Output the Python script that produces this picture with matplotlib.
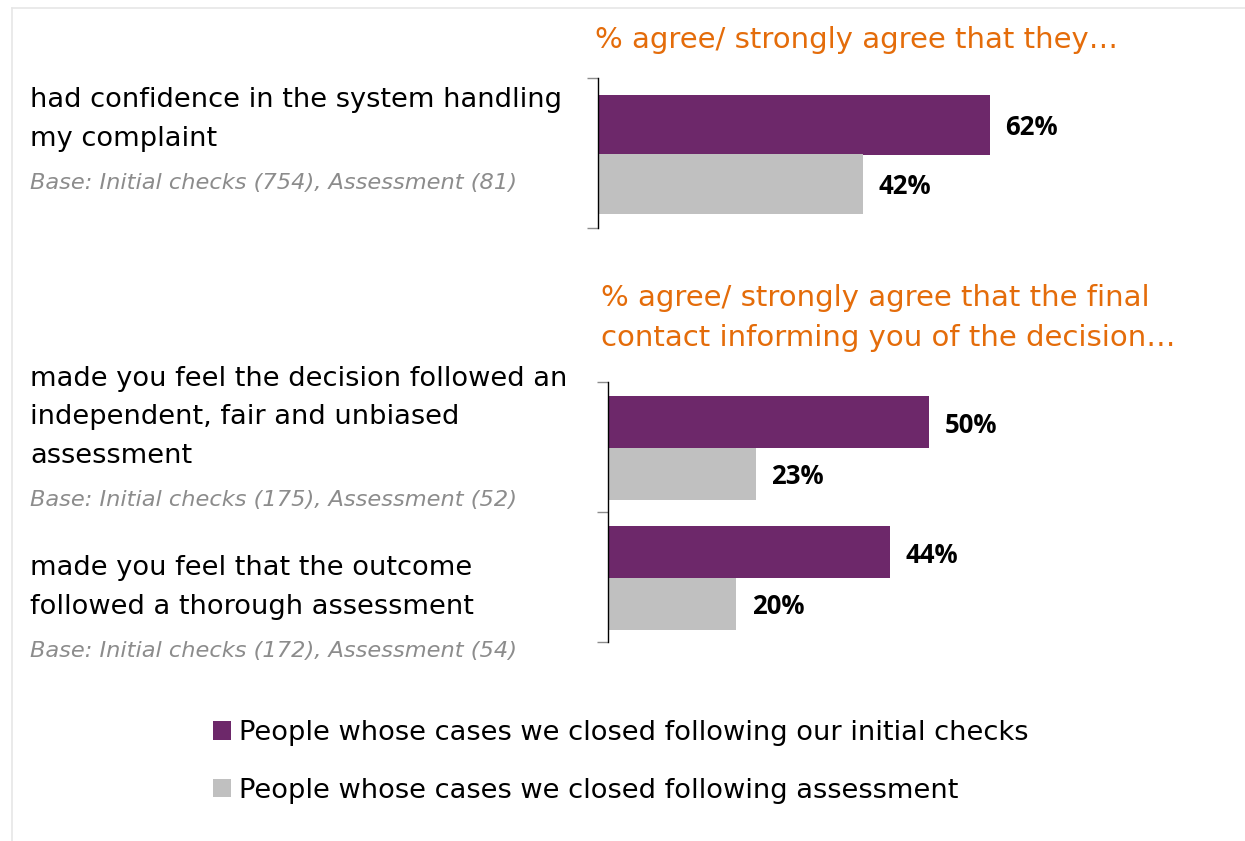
import matplotlib
matplotlib.use("Agg")
import matplotlib.pyplot as plt
from matplotlib.patches import Patch
from matplotlib.lines import Line2D

# ---- data ----
series_names = ["People whose cases we closed following our initial checks",
                "People whose cases we closed following assessment"]
colors = ["#6D286A", "#C0C0C0"]

top_title = "% agree/ strongly agree that they\u2026"
top_categories = ["had confidence in the system handling\nmy complaint"]
top_bases = ["Base: Initial checks (754), Assessment (81)"]
top_initial = [62]
top_assessment = [42]

bottom_title = "% agree/ strongly agree that the final\ncontact informing you of the decision\u2026"
bottom_categories = ["made you feel the decision followed an\nindependent, fair and unbiased\nassessment",
                     "made you feel that the outcome\nfollowed a thorough assessment"]
bottom_bases = ["Base: Initial checks (175), Assessment (52)",
                "Base: Initial checks (172), Assessment (54)"]
bottom_initial = [50, 44]
bottom_assessment = [23, 20]

W, H = 1245, 841
DPI = 100
fig = plt.figure(figsize=(W / DPI, H / DPI), dpi=DPI)
fig.patch.set_facecolor("white")

ORANGE = "#E46C0A"
BASEGRAY = "#8C8C8C"
LABEL_FONT = ["DejaVu Sans"]
VALUE_FONT = ["Open Sans", "DejaVu Sans"]


def px_axes(left, top, width, height):
    return fig.add_axes([left / W, 1 - (top + height) / H, width / W, height / H])


def draw_panel(ax, initial, assessment):
    n = len(initial)
    ys = list(range(n))
    h = 0.4
    b1 = ax.barh([y - 0.19 for y in ys], initial, height=h, color=colors[0])
    b2 = ax.barh([y + 0.205 for y in ys], assessment, height=h, color=colors[1])
    for bc in (b1, b2):
        texts = ax.bar_label(bc, labels=[f"{v}%" for v in bc.datavalues], padding=11,
                             fontsize=18.5, fontweight="bold", family=VALUE_FONT,
                             color="black")
        for t in texts:
            t.set_y(-2)
    ax.set_xlim(0, 100)
    ax.set_ylim(n - 0.5, -0.5)
    for s in ("top", "right", "bottom"):
        ax.spines[s].set_visible(False)
    ax.spines["left"].set_color("black")
    ax.spines["left"].set_linewidth(1.0)
    ax.set_xticks([])
    ax.set_yticks([y - 0.5 for y in range(n + 1)])
    ax.set_yticklabels([])
    ax.tick_params(axis="y", direction="out", length=8, color="#8C8C8C", width=1.0)
    ax.patch.set_alpha(0)


# top panel
ax1 = px_axes(598, 78, 632, 150)
draw_panel(ax1, top_initial, top_assessment)

# bottom panel
ax2 = px_axes(608, 382, 642, 260)
draw_panel(ax2, bottom_initial, bottom_assessment)

# titles
fig.text(595 / W, 1 - 40 / H, top_title, color=ORANGE, fontsize=21,
         family=LABEL_FONT, va="center", ha="left")
t_lines = bottom_title.split("\n")
for i, line in enumerate(t_lines):
    fig.text(601 / W, 1 - (298 + 40 * i) / H, line, color=ORANGE, fontsize=21,
             family=LABEL_FONT, va="center", ha="left")


def cat_label(text, base, y_first, spacing=38.5, base_gap=44):
    lines = text.split("\n")
    for i, line in enumerate(lines):
        fig.text(30 / W, 1 - (y_first + spacing * i) / H, line, color="black",
                 fontsize=19.6, family=LABEL_FONT, va="center", ha="left")
    yb = y_first + spacing * (len(lines) - 1) + base_gap
    fig.text(30 / W, 1 - yb / H, base, color=BASEGRAY, fontsize=16.2,
             style="italic", family=LABEL_FONT, va="center", ha="left")


cat_label(top_categories[0], top_bases[0], 100)
cat_label(bottom_categories[0], bottom_bases[0], 379)
cat_label(bottom_categories[1], bottom_bases[1], 568)

# legend
handles = [Patch(facecolor=c, edgecolor="none") for c in colors]
leg = fig.legend(handles, series_names, loc="upper left",
                 bbox_to_anchor=(213 / W, 1 - 720 / H), frameon=False,
                 prop={"family": LABEL_FONT, "size": 19.6},
                 handlelength=0.65, handleheight=0.65, handletextpad=0.3,
                 labelspacing=1.17, borderpad=0, borderaxespad=0)

# light frame
fig.add_artist(Line2D([12 / W, 12 / W], [0, 1 - 8 / H], transform=fig.transFigure,
                      color="#E6E6E6", lw=1.2))
fig.add_artist(Line2D([12 / W, 1], [1 - 8 / H, 1 - 8 / H], transform=fig.transFigure,
                      color="#E6E6E6", lw=1.2))

fig.savefig("out.png", dpi=DPI, facecolor="white")
